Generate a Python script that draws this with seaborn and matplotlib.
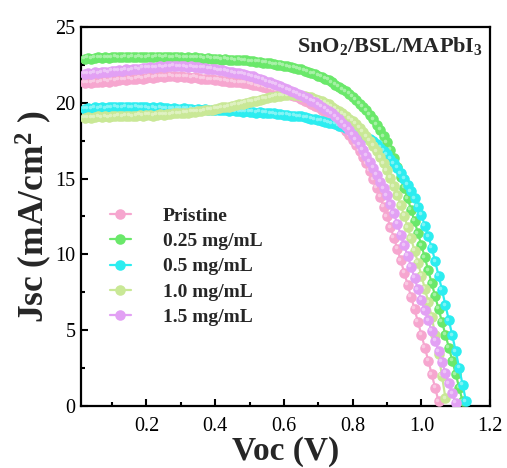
import matplotlib
matplotlib.use('Agg')
import matplotlib.pyplot as plt
import seaborn as sns
import pandas as pd
from matplotlib.transforms import offset_copy
from matplotlib.ticker import MultipleLocator
from matplotlib.legend_handler import HandlerTuple

# ---------------- data ----------------
voltage = [
    0.02, 0.03, 0.04, 0.05, 0.06, 0.07, 0.08, 0.09, 0.10, 0.11,
    0.12, 0.13, 0.14, 0.15, 0.16, 0.17, 0.18, 0.19, 0.20, 0.21,
    0.22, 0.23, 0.24, 0.25, 0.26, 0.27, 0.28, 0.29, 0.30, 0.31,
    0.32, 0.33, 0.34, 0.35, 0.36, 0.37, 0.38, 0.39, 0.40, 0.41,
    0.42, 0.43, 0.44, 0.45, 0.46, 0.47, 0.48, 0.49, 0.50, 0.51,
    0.52, 0.53, 0.54, 0.55, 0.56, 0.57, 0.58, 0.59, 0.60, 0.61,
    0.62, 0.63, 0.64, 0.65, 0.66, 0.67, 0.68, 0.69, 0.70, 0.71,
    0.72, 0.73, 0.74, 0.75, 0.76, 0.77, 0.78, 0.79, 0.80, 0.81,
    0.82, 0.83, 0.84, 0.85, 0.86, 0.87, 0.88, 0.89, 0.90, 0.91,
    0.92, 0.93, 0.94, 0.95, 0.96, 0.97, 0.98, 0.99, 1.00, 1.01,
    1.02, 1.03, 1.04, 1.05, 1.06, 1.07, 1.08, 1.09, 1.10, 1.11,
    1.12, 1.13,
]

j_pristine = [
    21.3, 21.35, 21.3, 21.4, 21.35, 21.4, 21.45, 21.4, 21.5, 21.45,
    21.5, 21.55, 21.5, 21.6, 21.55, 21.6, 21.65, 21.6, 21.65, 21.7,
    21.65, 21.7, 21.75, 21.7, 21.75, 21.8, 21.75, 21.7, 21.75, 21.7,
    21.7, 21.65, 21.7, 21.65, 21.6, 21.6, 21.55, 21.55, 21.5, 21.5,
    21.45, 21.45, 21.4, 21.4, 21.35, 21.35, 21.3, 21.3, 21.25, 21.2,
    21.15, 21.1, 21.05, 21.0, 20.95, 20.9, 20.8, 20.75, 20.7, 20.6,
    20.5, 20.45, 20.35, 20.25, 20.15, 20.05, 19.95, 19.8, 19.7, 19.55,
    19.4, 19.25, 19.05, 18.85, 18.65, 18.4, 18.15, 17.85, 17.55, 17.2,
    16.85, 16.45, 16.0, 15.5, 14.95, 14.4, 13.8, 13.15, 12.5, 11.8,
    11.1, 10.35, 9.6, 8.8, 8.0, 7.2, 6.4, 5.55, 4.7, 3.85,
    3.0, 2.1, 1.2, 0.3,
]

j_025 = [
    22.9, 22.95, 22.9, 22.95, 23.0, 22.95, 23.0, 22.95, 23.0, 23.05,
    23.0, 23.0, 23.05, 23.0, 23.05, 23.0, 23.05, 23.0, 23.0, 23.05,
    23.0, 23.05, 23.05, 23.0, 23.05, 23.0, 23.0, 23.05, 23.0, 22.95,
    23.0, 22.95, 23.0, 22.95, 22.95, 22.9, 22.95, 22.9, 22.9, 22.9,
    22.85, 22.9, 22.85, 22.85, 22.8, 22.85, 22.8, 22.8, 22.75, 22.75,
    22.7, 22.7, 22.65, 22.65, 22.6, 22.55, 22.5, 22.5, 22.45, 22.4,
    22.35, 22.3, 22.25, 22.2, 22.1, 22.05, 21.95, 21.9, 21.8, 21.7,
    21.6, 21.5, 21.35, 21.2, 21.05, 20.9, 20.75, 20.6, 20.4, 20.2,
    19.95, 19.75, 19.5, 19.2, 18.9, 18.55, 18.2, 17.8, 17.4, 16.9,
    16.35, 15.75, 15.1, 14.4, 13.7, 12.95, 12.2, 11.4, 10.6, 9.8,
    8.95, 8.1, 7.25, 6.4, 5.55, 4.7, 3.85, 3.0, 2.1, 1.2,
    0.3,
]

j_05 = [
    19.6, 19.65, 19.6, 19.7, 19.65, 19.7, 19.65, 19.7, 19.7, 19.75,
    19.7, 19.7, 19.75, 19.7, 19.7, 19.75, 19.7, 19.7, 19.7, 19.65,
    19.7, 19.65, 19.7, 19.65, 19.65, 19.6, 19.65, 19.6, 19.6, 19.65,
    19.6, 19.6, 19.55, 19.6, 19.55, 19.6, 19.55, 19.55, 19.5, 19.55,
    19.5, 19.5, 19.45, 19.5, 19.45, 19.45, 19.4, 19.45, 19.4, 19.4,
    19.35, 19.4, 19.35, 19.35, 19.3, 19.3, 19.25, 19.25, 19.2, 19.2,
    19.15, 19.15, 19.1, 19.1, 19.05, 19.0, 18.95, 18.9, 18.85, 18.8,
    18.75, 18.7, 18.65, 18.6, 18.5, 18.45, 18.35, 18.3, 18.2, 18.1,
    18.0, 17.9, 17.75, 17.6, 17.45, 17.25, 17.05, 16.85, 16.6, 16.3,
    16.0, 15.7, 15.35, 15.0, 14.6, 14.15, 13.7, 13.15, 12.6, 11.9,
    11.2, 10.45, 9.55, 8.6, 7.65, 6.65, 5.65, 4.65, 3.6, 2.5,
    1.4, 0.3,
]

j_10 = [
    19.0, 19.05, 19.0, 19.05, 19.1, 19.05, 19.1, 19.05, 19.1, 19.1,
    19.15, 19.1, 19.15, 19.15, 19.1, 19.15, 19.2, 19.15, 19.2, 19.2,
    19.15, 19.2, 19.25, 19.2, 19.25, 19.25, 19.3, 19.3, 19.3, 19.35,
    19.35, 19.4, 19.4, 19.45, 19.45, 19.5, 19.55, 19.55, 19.6, 19.65,
    19.7, 19.7, 19.75, 19.8, 19.85, 19.9, 19.95, 20.0, 20.05, 20.1,
    20.15, 20.2, 20.25, 20.3, 20.35, 20.4, 20.45, 20.45, 20.5, 20.5,
    20.55, 20.5, 20.5, 20.45, 20.45, 20.4, 20.35, 20.25, 20.2, 20.1,
    20.0, 19.9, 19.75, 19.6, 19.45, 19.3, 19.15, 18.95, 18.8, 18.6,
    18.35, 18.1, 17.8, 17.5, 17.15, 16.8, 16.4, 16.0, 15.55, 15.05,
    14.5, 13.9, 13.25, 12.55, 11.8, 11.05, 10.25, 9.45, 8.6, 7.75,
    6.85, 5.9, 4.7, 3.4, 2.0, 0.5,
]

j_15 = [
    21.9, 21.95, 21.9, 22.0, 21.95, 22.0, 22.05, 22.0, 22.1, 22.1,
    22.15, 22.1, 22.2, 22.15, 22.2, 22.25, 22.2, 22.3, 22.3, 22.35,
    22.3, 22.35, 22.4, 22.35, 22.4, 22.4, 22.45, 22.4, 22.4, 22.4,
    22.35, 22.4, 22.35, 22.35, 22.3, 22.3, 22.25, 22.25, 22.2, 22.15,
    22.15, 22.1, 22.05, 22.0, 21.95, 21.95, 21.9, 21.85, 21.8, 21.75,
    21.65, 21.6, 21.5, 21.4, 21.35, 21.25, 21.2, 21.1, 21.0, 20.9,
    20.8, 20.7, 20.6, 20.5, 20.4, 20.3, 20.15, 20.05, 19.9, 19.75,
    19.6, 19.45, 19.3, 19.1, 18.9, 18.7, 18.45, 18.2, 17.9, 17.6,
    17.25, 16.9, 16.5, 16.1, 15.7, 15.25, 14.8, 14.35, 13.9, 13.3,
    12.7, 12.0, 11.3, 10.6, 9.9, 9.2, 8.45, 7.7, 7.0, 6.3,
    5.65, 4.95, 4.3, 3.6, 2.9, 2.2, 1.5, 0.85, 0.2,
]

labels = ["Pristine", "0.25 mg/mL", "0.5 mg/mL", "1.0 mg/mL", "1.5 mg/mL"]
series = [j_pristine, j_025, j_05, j_10, j_15]
colors = ["#F6A6CF", "#6AE86A", "#2CEDF0", "#C9E896", "#E2A0F4"]

x_ticks = [0.2, 0.4, 0.6, 0.8, 1.0, 1.2]
y_ticks = [0, 5, 10, 15, 20, 25]

frames = []
for name, js in zip(labels, series):
    frames.append(pd.DataFrame({"V": voltage[:len(js)], "J": js, "sample": name}))
df = pd.concat(frames, ignore_index=True)

# ---------------- style ----------------
sns.set_style("ticks")
plt.rcParams["font.family"] = ["Liberation Serif", "DejaVu Serif"]
plt.rcParams["mathtext.fontset"] = "custom"
plt.rcParams["mathtext.rm"] = "Liberation Serif"
plt.rcParams["mathtext.bf"] = "Liberation Serif:bold"
plt.rcParams["mathtext.it"] = "Liberation Serif:italic"

fig = plt.figure(figsize=(5.07, 4.68), dpi=100)
ax = fig.add_axes([0.160, 0.1325, 0.8067, 0.8098])

main_handles = []
hl_handles = []
for i, (name, col) in enumerate(zip(labels, colors)):
    sub = df[df["sample"] == name]
    sns.lineplot(data=sub, x="V", y="J", ax=ax, color=col, marker="o",
                 markersize=7.6, markeredgewidth=0, linewidth=1.6,
                 estimator=None, legend=False, zorder=3 + i)
    main_handles.append(ax.lines[-1])
    hl, = ax.plot(sub["V"], sub["J"], ls="none", marker="o", ms=2.6,
                  color="white", alpha=0.4, mec="none", zorder=3.5 + i,
                  transform=offset_copy(ax.transData, fig=fig, x=-1.6, y=1.6, units="dots"))
    hl_handles.append(hl)

ax.set_xlim(0.01, 1.2)
ax.set_ylim(0, 25)
ax.set_xticks(x_ticks)
ax.set_yticks(y_ticks)
ax.xaxis.set_minor_locator(MultipleLocator(0.1))
ax.yaxis.set_minor_locator(MultipleLocator(2.5))
ax.set_xticklabels([f"{t:.1f}" for t in x_ticks])

for s in ax.spines.values():
    s.set_linewidth(1.6)
    s.set_color("black")
ax.tick_params(which="both", direction="in", top=False, right=False, width=1.5, colors="black")
ax.tick_params(which="major", length=5, labelsize=14.5)
ax.tick_params(which="minor", length=3)
ax.tick_params(axis="x", which="major", pad=8)
ax.tick_params(axis="y", which="major", pad=4)

ax.set_xlabel("Voc (V)", fontsize=24, fontweight="bold", labelpad=0)
ax.set_ylabel(r"Jsc (mA/cm$^{\mathbf{2}}$ )", fontsize=25.5, fontweight="bold", labelpad=1)

ax.text(0.983, 0.95, r"SnO$_{\mathbf{2}}$/BSL/MAPbI$_{\mathbf{3}}$", transform=ax.transAxes,
        ha="right", va="center", fontsize=16, fontweight="bold")

leg = ax.legend([(m, h) for m, h in zip(main_handles, hl_handles)], labels,
                handler_map={tuple: HandlerTuple(ndivide=None)},
                loc="center left", bbox_to_anchor=(0.071, 0.368), frameon=False,
                prop={"weight": "bold", "size": 14}, handlelength=2.1,
                handletextpad=0.6, labelspacing=0.4, borderpad=0, borderaxespad=0,
                numpoints=1)

fig.savefig("out.png", dpi=100)
